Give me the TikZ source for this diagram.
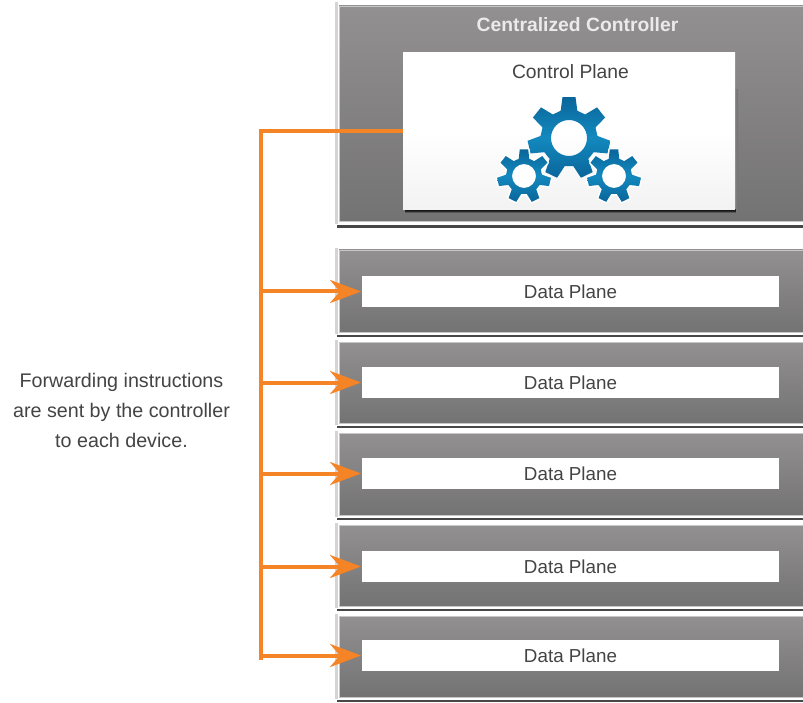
\documentclass[tikz,border=0pt]{standalone}
\usepackage{fontspec}
\setmainfont{Liberation Sans}
\usetikzlibrary{arrows.meta}
\definecolor{orangeline}{HTML}{F58426}
\definecolor{paneltop}{HTML}{929090}
\definecolor{panelbot}{HTML}{747374}
\definecolor{labelgray}{HTML}{444444}
\definecolor{gearA}{HTML}{0A659A}
\definecolor{gearB}{HTML}{1389BE}
\tikzset{
  panelbox/.style={rectangle,inner sep=0pt,outer sep=0pt,top color=paneltop,bottom color=panelbot,draw=black!22,line width=.7pt},
  whitebox/.style={rectangle,inner sep=0pt,outer sep=0pt,fill=white,text=labelgray,font=\fontsize{18.8}{22}\selectfont},
  edgeleft/.style={fill=black!17},
  edgedark/.style={fill=black!72},
  trunkline/.style={draw=orangeline,line width=4pt,line join=miter},
  feedline/.style={draw=orangeline,line width=4pt,shorten >=1pt,-{Stealth[length=31pt,width=23pt,inset=10pt]}},
  gearshade/.style={even odd rule,top color=gearA,bottom color=gearA,middle color=gearB},
}
\newcommand{\drawgear}[6]{% cx cy outer root hole halo
  \begin{scope}[shift={(#1,#2)}]
    \def\gearoutline{
      (-90-9:#3) -- (-90+9:#3) -- (-90+17:#4) -- (-90+360/7-17:#4)
      -- (-90+360/7-9:#3) -- (-90+360/7+9:#3) -- (-90+360/7+17:#4) -- (-90+720/7-17:#4)
      -- (-90+720/7-9:#3) -- (-90+720/7+9:#3) -- (-90+720/7+17:#4) -- (-90+1080/7-17:#4)
      -- (-90+1080/7-9:#3) -- (-90+1080/7+9:#3) -- (-90+1080/7+17:#4) -- (-90+1440/7-17:#4)
      -- (-90+1440/7-9:#3) -- (-90+1440/7+9:#3) -- (-90+1440/7+17:#4) -- (-90+1800/7-17:#4)
      -- (-90+1800/7-9:#3) -- (-90+1800/7+9:#3) -- (-90+1800/7+17:#4) -- (-90+2160/7-17:#4)
      -- (-90+2160/7-9:#3) -- (-90+2160/7+9:#3) -- (-90+2160/7+17:#4) -- (-90+2520/7-17:#4)
      -- cycle}
    \ifdim #6pt>0pt
      \path[draw=white,fill=white,line width=#6pt,line join=round] \gearoutline;
    \fi
    \shade[gearshade] \gearoutline (0,0) circle[radius=#5];
  \end{scope}}
\begin{document}
\begin{tikzpicture}[x=1pt,y=-1pt]
\useasboundingbox (0,0) rectangle (803,703);
\fill[white] (0,0) rectangle (803,703);

% controller panel
\fill[edgeleft] (335,2) rectangle (338,224);
\fill[edgedark] (337,225.5) rectangle (803,228);
\node[panelbox,minimum width=464pt,minimum height=215pt] (ctrl) at (571,113.5) {};
\node[anchor=center,text=white!92!black,font=\fontsize{19.3}{22}\selectfont\bfseries] (ctitle) at (577.5,25) {Centralized Controller};

% data panels
\foreach \ptop/\pbot in {250/332,342/423,433/515,525/606,616/697}{
  \fill[edgeleft] (335,\ptop-2) rectangle (338,\pbot+2);
  \fill[edgedark] (337,\pbot+2.5) rectangle (803,\pbot+5);
  \path[panelbox] (339,\ptop) rectangle (803,\pbot);
}
\node[whitebox,minimum width=417pt,minimum height=31pt] (dp1) at (570.5,291.5) {Data Plane};
\node[whitebox,minimum width=417pt,minimum height=31pt] (dp2) at (570.5,382.5) {Data Plane};
\node[whitebox,minimum width=417pt,minimum height=31pt] (dp3) at (570.5,473.5) {Data Plane};
\node[whitebox,minimum width=417pt,minimum height=31pt] (dp4) at (570.5,566.5) {Data Plane};
\node[whitebox,minimum width=417pt,minimum height=31pt] (dp5) at (570.5,655.5) {Data Plane};

% control plane box with soft shadow
\shade[left color=black!50,right color=panelbot] (735,90) rectangle (738,212);
\foreach \g/\d in {25/3.2,45/2.5,65/1.8,80/1.1}{
  \fill[black!\g!panelbot] (405,209) rectangle (736,210+\d);
}
\node[rectangle,inner sep=0pt,outer sep=0pt,minimum width=332pt,minimum height=157pt,
      top color=white,bottom color=black!5,middle color=white] (cp) at (569,131.5) {};
\node[text=labelgray,font=\fontsize{19.3}{22}\selectfont] (cptitle) at (570.5,72) {Control Plane};

% gears
\drawgear{569}{138}{41.5}{28.5}{18}{0}
\drawgear{524}{176}{27}{18}{12}{3}
\drawgear{614}{176}{27}{18}{12}{3}

% connectors
\coordinate (trunktop) at (261,131.5);
\coordinate (trunkbot) at (261,659.5);
\draw[trunkline] (cp.west) -- (cp.west -| trunktop) -- (trunkbot);
\draw[feedline] (dp1.west -| trunktop) -- (dp1.west);
\draw[feedline] (dp2.west -| trunktop) -- (dp2.west);
\draw[feedline] (dp3.west -| trunktop) -- (dp3.west);
\draw[feedline] (dp4.west -| trunktop) -- (dp4.west);
\draw[feedline] (dp5.west -| trunktop) -- (dp5.west);

% note
\node[text=labelgray,font=\fontsize{19.7}{30}\selectfont,align=center] (note) at (121.5,410)
  {Forwarding instructions\\are sent by the controller\\to each device.};
\end{tikzpicture}
\end{document}
